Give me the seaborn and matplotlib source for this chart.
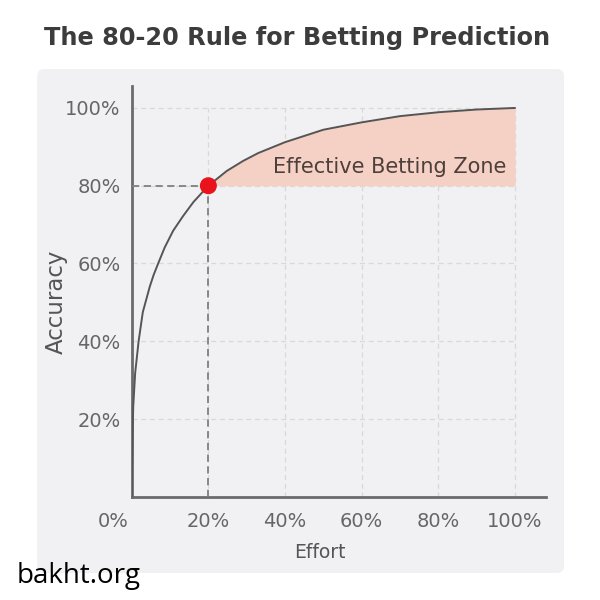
import numpy as np
import pandas as pd
import matplotlib
matplotlib.use("Agg")
import matplotlib.pyplot as plt
import matplotlib.transforms as mtransforms
from matplotlib.patches import FancyBboxPatch
import seaborn as sns

# values (percent)
effort = [0, 0.1, 0.26, 0.4, 0.9, 1.8, 2.9, 4.7, 5.7, 6.9, 8.6, 10.8,
          13.4, 16.1, 20,
          24.8, 29.1, 33, 40, 50, 60, 70, 80, 90, 100]
accuracy = [0, 8, 17.2, 23.2, 31.8, 40, 47.5, 54, 57, 60, 64.1, 68.4,
            72.2, 75.8, 80,
            83.8, 86.4, 88.4, 91.2, 94.4, 96.3, 97.9, 98.9, 99.6, 100]
dot_x, dot_y = 20, 80
ticks = [0, 20, 40, 60, 80, 100]
tick_labels = ['0%', '20%', '40%', '60%', '80%', '100%']

title = 'The 80-20 Rule for Betting Prediction'
zone_label = 'Effective Betting Zone'

df = pd.DataFrame({'Effort': effort, 'Accuracy': accuracy})
zone = df[df['Effort'] >= dot_x]

sns.set_theme(style="white")
plt.rcParams['font.family'] = ['DejaVu Sans']

fig = plt.figure(figsize=(6, 6), dpi=100)
fig.patch.set_facecolor('white')

# light grey card behind the chart
card = FancyBboxPatch((0.062, 0.045), 0.878, 0.84,
                      boxstyle="round,pad=0,rounding_size=0.012",
                      transform=fig.transFigure, facecolor='#f1f1f3',
                      edgecolor='none', zorder=-5)
fig.patches.append(card)

ax = fig.add_axes([0.2195, 0.172, 0.69, 0.685])
ax.set_facecolor('none')
ax.set_zorder(2)

grid_col = '#d9d9dc'
for t in ticks[1:]:
    ax.vlines(t, 0, 100, colors=grid_col, linestyles=(0, (4, 3)), lw=0.9, zorder=1)
    ax.hlines(t, 0, 100, colors=grid_col, linestyles=(0, (4, 3)), lw=0.9, zorder=1)

ax.fill_between(zone['Effort'], dot_y, zone['Accuracy'], color='#f5d0c5',
                lw=0, zorder=2)

# dark dashed guides to the 80/20 point
ax.plot([0, dot_x], [dot_y, dot_y], color='#808080', ls=(0, (4, 2.5)), lw=1.3, zorder=3)
ax.plot([dot_x, dot_x], [0, dot_y], color='#808080', ls=(0, (4, 2.5)), lw=1.3, zorder=3)

sns.lineplot(data=df, x='Effort', y='Accuracy', color='#555555', lw=1.4,
             ax=ax, zorder=4)
sns.scatterplot(x=[dot_x], y=[dot_y], color='#e8131b', s=150,
                edgecolor='none', ax=ax, zorder=5)

ax.text(67.4, 84.8, zone_label, ha='center', va='center', fontsize=15,
        color='#4d3f3b', zorder=6)

ax.set_xlim(0, 108)
ax.set_ylim(0, 105.7)
ax.set_xticks(ticks)
ax.set_xticklabels(tick_labels)
ax.set_yticks(ticks[1:])
ax.set_yticklabels(tick_labels[1:])
ax.tick_params(axis='both', length=0, labelsize=14, colors='#666666')
ax.tick_params(axis='x', pad=11)
ax.tick_params(axis='y', pad=8)

# the 0% label sits left of the axis in the original
lbl0 = ax.get_xticklabels()[0]
lbl0.set_transform(lbl0.get_transform() +
                   mtransforms.ScaledTranslation(-0.19, 0, fig.dpi_scale_trans))

for side in ['top', 'right']:
    ax.spines[side].set_visible(False)
for side in ['left', 'bottom']:
    ax.spines[side].set_color('#6b6b6b')
    ax.spines[side].set_linewidth(2)

ax.set_xlabel('Effort', fontsize=13.5, color='#555555')
ax.set_ylabel('Accuracy', fontsize=16.5, color='#555555')
ax.xaxis.set_label_coords(0.455, -0.112)
ax.yaxis.set_label_coords(-0.155, 0.474)

fig.text(0.495, 0.936, title, ha='center', va='center', fontsize=17.3,
         color='#3c3c3c', fontweight='semibold')
fig.text(0.028, 0.04, 'bakht.org', ha='left', va='center', fontsize=20,
         color='black', family=['Open Sans', 'DejaVu Sans'])

fig.savefig('out.png', dpi=100)
